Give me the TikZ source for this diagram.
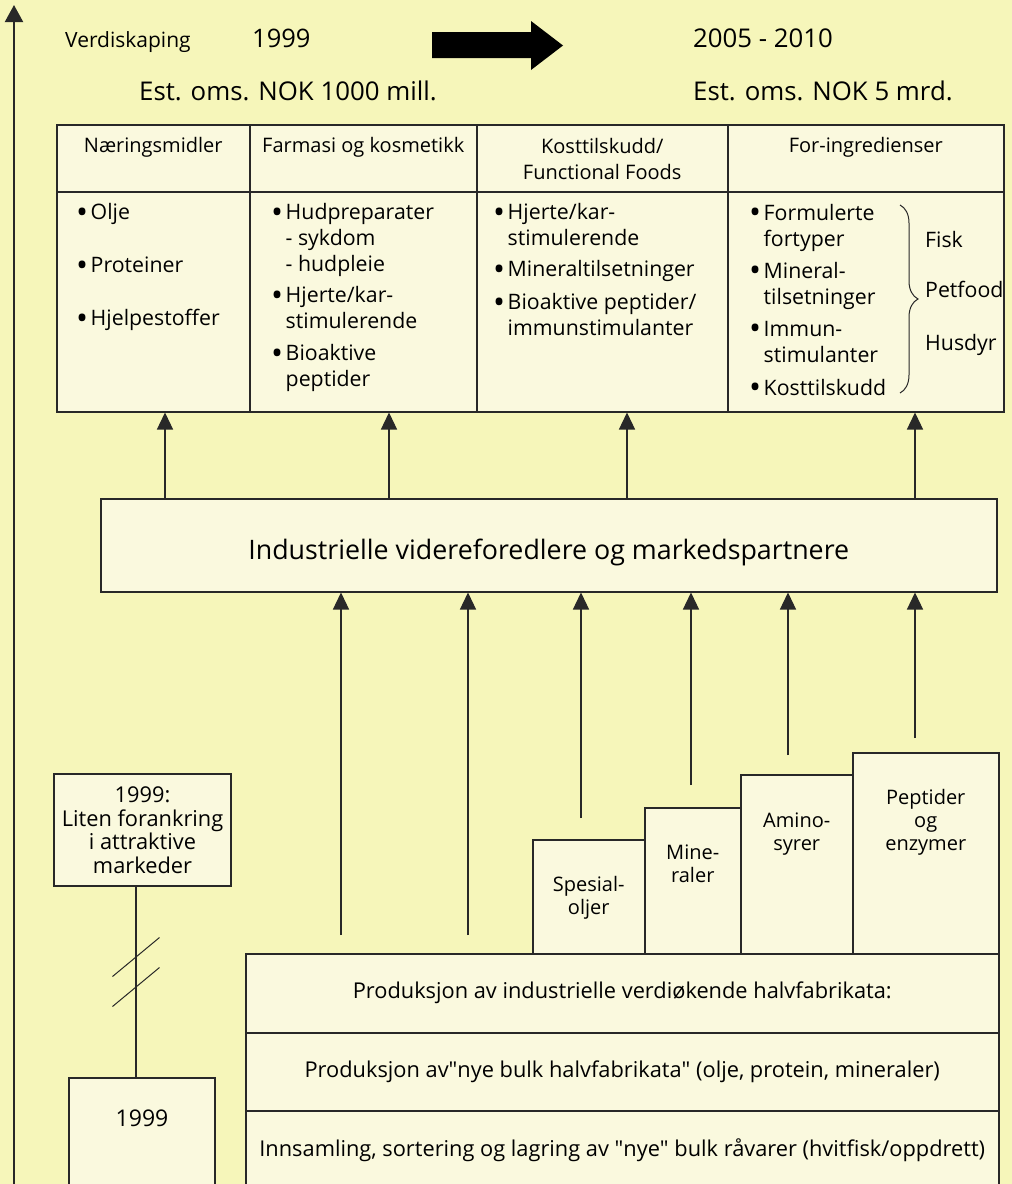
\documentclass[tikz,border=0pt]{standalone}
\usepackage{fontspec}
\setmainfont{Open Sans}
\usepackage{tikz}
\usetikzlibrary{arrows.meta,decorations.pathreplacing}

\definecolor{bakgrunn}{RGB}{246,246,186}
\definecolor{boksfarge}{RGB}{250,249,222}
\definecolor{strek}{RGB}{40,40,40}

\newcommand{\prikk}{\raisebox{-3.5pt}{\scalebox{1.5}{•}}}

\begin{document}
\begin{tikzpicture}[auto, x=1pt, y=-1pt,
		boks/.style={draw=strek, line width=1.5pt, fill=boksfarge, inner sep=0pt, anchor=north west},
		pil/.style={draw=strek, line width=1.3pt, -{Triangle[width=16pt,length=17pt]}},
		hode/.style={font=\fontsize{20}{26}\selectfont, align=center, text height=28, text depth=39},
		punkt/.style={anchor=base west, inner sep=0pt, font=\fontsize{21.3}{26}\selectfont},
		vare/.style={font=\fontsize{20}{23}\selectfont, align=center},
		lag/.style={font=\fontsize{21.8}{24}\selectfont}]
			\useasboundingbox (0,0) rectangle (1012,1184);
			\fill[bakgrunn] (0,0) rectangle (1012,1184);

			% tidsakse
			\coordinate (aksbunn) at (14,1190);
			\coordinate (akstopp) at (14,5);
			\draw [draw=strek, line width=2pt, -{Triangle[width=18pt,length=17pt]}] (aksbunn) to (akstopp);

			% overskrift
			\node [anchor=base west, inner sep=0pt, font=\fontsize{21}{24}\selectfont] (verdi) at (65,47) {Verdiskaping};
			\node [anchor=base west, inner sep=0pt, font=\fontsize{25.5}{28}\selectfont] (aar1) at (252,47) {1999};
			\node [anchor=base west, inner sep=0pt, font=\fontsize{25.8}{28}\selectfont] (aar2) at (693,47) {2005 - 2010};
			\node [anchor=base west, inner sep=0pt, font=\fontsize{25.8}{28}\selectfont] (oms1) at (139,100) {Est. oms. NOK 1000 mill.};
			\node [anchor=base west, inner sep=0pt, font=\fontsize{25.8}{28}\selectfont] (oms2) at (693,100) {Est. oms. NOK 5 mrd.};
			\fill [black] (432,32) -- (531,32) -- (531,21) -- (563,45.5) -- (531,70) -- (531,58) -- (432,58) -- cycle;

			% markeder
			\node [boks, hode, minimum width=193] (h1) at (56,124) {Næringsmidler};
			\node [boks, hode, minimum width=227] (h2) at (249,124) {Farmasi og kosmetikk};
			\node [boks, hode, minimum width=251, text height=55, text depth=12] (h3) at (476,124) {Kosttilskudd/\\Functional Foods};
			\node [boks, hode, minimum width=276] (h4) at (727,124) {For-ingredienser};
			\node [boks, minimum width=193, minimum height=220] (b1) at (56,191) {};
			\node [boks, minimum width=227, minimum height=220] (b2) at (249,191) {};
			\node [boks, minimum width=251, minimum height=220] (b3) at (476,191) {};
			\node [boks, minimum width=276, minimum height=220] (b4) at (727,191) {};

			\node [punkt] (liste1) at (76,219.5) {\begin{tabular}[t]{@{}l@{\hspace{2.5pt}}l@{}}
				\prikk & Olje\\[27pt]
				\prikk & Proteiner\\[27pt]
				\prikk & Hjelpestoffer
			\end{tabular}};
			\node [punkt] (liste2) at (271,219.5) {\begin{tabular}[t]{@{}l@{\hspace{2.5pt}}l@{}}
				\prikk & Hudpreparater\\
				& - sykdom\\
				& - hudpleie\\[5pt]
				\prikk & Hjerte/kar-\\
				& stimulerende\\[6pt]
				\prikk & Bioaktive\\
				& peptider
			\end{tabular}};
			\node [punkt] (liste3) at (493,219.5) {\begin{tabular}[t]{@{}l@{\hspace{2.5pt}}l@{}}
				\prikk & Hjerte/kar-\\
				& stimulerende\\[5pt]
				\prikk & Mineraltilsetninger\\[7pt]
				\prikk & Bioaktive peptider/\\
				& immunstimulanter
			\end{tabular}};
			\node [punkt] (liste4) at (749,220) {\begin{tabular}[t]{@{}l@{\hspace{2.5pt}}l@{}}
				\prikk & Formulerte\\
				& fortyper\\[6pt]
				\prikk & Mineral-\\
				& tilsetninger\\[6pt]
				\prikk & Immun-\\
				& stimulanter\\[7pt]
				\prikk & Kosttilskudd
			\end{tabular}};
			\draw [draw=strek, line width=1pt, decorate, decoration={brace, amplitude=18pt, aspect=0.5}] (900,205) -- (900,393);
			\node [punkt] (fisk) at (925,247) {Fisk};
			\node [punkt] (petfood) at (925,297) {Petfood};
			\node [punkt] (husdyr) at (925,350) {Husdyr};

			% videreforedlere
			\node [boks, minimum width=896, text height=61, text depth=32, font=\fontsize{26.8}{30}\selectfont] (indu) at (100,498) {Industrielle videreforedlere og markedspartnere};
			\coordinate (u1) at (165,498);
			\coordinate (u2) at (389,498);
			\coordinate (u3) at (627,498);
			\coordinate (u4) at (915,498);
			\draw [pil] (u1) to (u1 |- b1.south);
			\draw [pil] (u2) to (u2 |- b2.south);
			\draw [pil] (u3) to (u3 |- b3.south);
			\draw [pil] (u4) to (u4 |- b4.south);

			% produksjon
			\node [boks, lag, minimum width=753, minimum height=79] (lag1) at (245,953) {Produksjon av industrielle verdiøkende halvfabrikata:};
			\node [boks, lag, minimum width=753, minimum height=78] (lag2) at (245,1032) {Produksjon av\textquotedbl nye bulk halvfabrikata\textquotedbl\ (olje, protein, mineraler)};
			\node [boks, lag, minimum width=753, minimum height=78] (lag3) at (245,1110) {Innsamling, sortering og lagring av \textquotedbl nye\textquotedbl\ bulk råvarer (hvitfisk/oppdrett)};

			\node [boks, vare, minimum width=112, text height=75, text depth=39] (spesial) at (532,839) {Spesial-\\oljer};
			\node [boks, vare, minimum width=96, text height=75, text depth=71] (mineraler) at (644,807) {Mine-\\raler};
			\node [boks, vare, minimum width=112, text height=76, text depth=103] (amino) at (740,774) {Amino-\\syrer};
			\node [boks, vare, minimum width=146, text height=98, text depth=103] (peptider) at (852,752) {Peptider\\og\\enzymer};

			\coordinate (s1) at (341,935);
			\coordinate (s2) at (468,935);
			\coordinate (s3) at (581,818);
			\coordinate (s4) at (691,785);
			\coordinate (s5) at (788,755);
			\coordinate (s6) at (915,738);
			\draw [pil] (s1) to (s1 |- indu.south);
			\draw [pil] (s2) to (s2 |- indu.south);
			\draw [pil] (s3) to (s3 |- indu.south);
			\draw [pil] (s4) to (s4 |- indu.south);
			\draw [pil] (s5) to (s5 |- indu.south);
			\draw [pil] (s6) to (s6 |- indu.south);

			% 1999
			\node [boks, anchor=center, minimum width=177, minimum height=112, align=center, font=\fontsize{21.8}{23.5}\selectfont] (forank) at (142.5,830) {1999:\\Liten forankring\\i attraktive\\markeder};
			\node [boks, anchor=north, minimum width=146, text height=49, text depth=75, font=\fontsize{23}{26}\selectfont] (aar) at (142,1077) {1999};
			\coordinate (brudd) at (136,972);
			\draw [draw=strek, line width=1.3pt] (forank.south -| brudd) to (aar.north -| brudd);
			\draw [draw=strek, line width=1pt] ([shift={(-23.5,4.5)}]brudd) -- ([shift={(23.5,-34.5)}]brudd);
			\draw [draw=strek, line width=1pt] ([shift={(-23.5,34.5)}]brudd) -- ([shift={(23.5,-4.5)}]brudd);
		\end{tikzpicture}
\end{document}
